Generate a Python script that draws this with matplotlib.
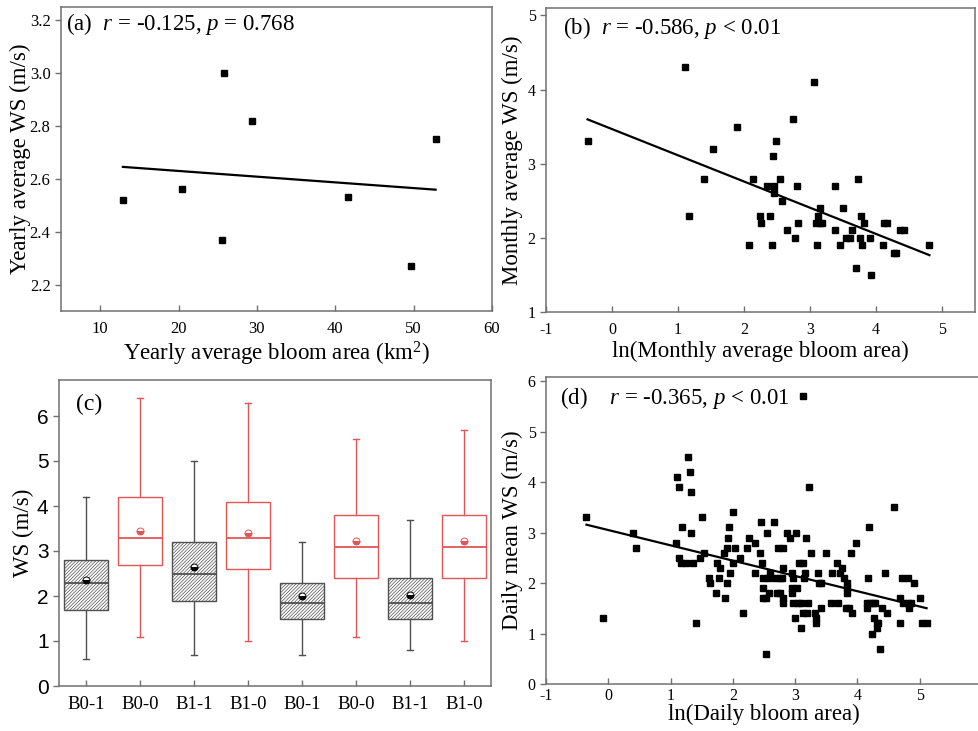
import numpy as np
import matplotlib
matplotlib.use("Agg")
import matplotlib.pyplot as plt

# -----------------------------
# Data
# -----------------------------
# (a) yearly
area_a = [12.9, 20.4, 25.6, 25.8, 29.4, 41.6, 49.7, 52.8]
ws_a = [2.52, 2.56, 2.37, 3.00, 2.82, 2.53, 2.27, 2.75]
fit_a = (2.673, -0.00216)  # intercept, slope

# (b) monthly
lnarea_b = [-0.37, 1.10, 1.17, 1.40, 1.53, 1.90, 2.08, 2.13, 2.24, 2.25,
            2.35, 2.40, 2.42, 2.44, 2.46, 2.46, 2.48, 2.55, 2.58, 2.65,
            2.74, 2.78, 2.81, 2.82, 3.06, 3.09, 3.10, 3.12, 3.15, 3.15,
            3.18, 3.38, 3.38, 3.45, 3.50, 3.54, 3.60, 3.64, 3.69, 3.73,
            3.75, 3.78, 3.79, 3.82, 3.91, 3.93, 4.11, 4.12, 4.17, 4.27,
            4.30, 4.37, 4.43, 4.81]
ws_b = [3.3, 4.3, 2.3, 2.8, 3.2, 3.5, 1.9, 2.8, 2.3, 2.2,
        2.7, 2.3, 1.9, 3.1, 2.7, 2.6, 3.3, 2.8, 2.5, 2.1,
        3.6, 2.0, 2.7, 2.2, 4.1, 2.2, 1.9, 2.3, 2.4, 2.2,
        2.2, 2.7, 2.1, 1.9, 2.4, 2.0, 2.0, 2.1, 1.6, 2.8,
        2.0, 2.3, 1.9, 2.2, 2.0, 1.5, 1.9, 2.2, 2.2, 1.8,
        1.8, 2.1, 2.1, 1.9]
fit_b = (3.467, -0.3535)

# (c) box statistics
groups = ["B0-1", "B0-0", "B1-1", "B1-0", "B0-1", "B0-0", "B1-1", "B1-0"]
q1 = [1.7, 2.7, 1.9, 2.6, 1.5, 2.4, 1.5, 2.4]
med = [2.3, 3.3, 2.5, 3.3, 1.85, 3.1, 1.85, 3.1]
q3 = [2.8, 4.2, 3.2, 4.1, 2.3, 3.8, 2.4, 3.8]
whislo = [0.6, 1.1, 0.7, 1.0, 0.7, 1.1, 0.8, 1.0]
whishi = [4.2, 6.4, 5.0, 6.3, 3.2, 5.5, 3.7, 5.7]
means = [2.35, 3.45, 2.65, 3.40, 2.00, 3.22, 2.03, 3.22]

# (d) daily
lnarea_d = [-0.35, -0.08, 0.40, 0.44, 1.08, 1.11, 1.14, 1.14, 1.16, 1.19,
            1.25, 1.28, 1.31, 1.33, 1.32, 1.36, 1.41, 1.48, 1.50, 1.54,
            1.62, 1.64, 1.73, 1.75, 1.77, 1.80, 1.85, 1.87, 1.91, 1.91,
            1.92, 1.94, 1.96, 2.00, 2.00, 2.04, 2.12, 2.17, 2.22, 2.26,
            2.35, 2.35, 2.44, 2.45, 2.47, 2.48, 2.49, 2.49, 2.53, 2.55,
            2.54, 2.56, 2.58, 2.59, 2.66, 2.68, 2.71, 2.72, 2.75, 2.76,
            2.79, 2.80, 2.81, 2.81, 2.81, 2.87, 2.92, 2.95, 2.96, 2.95,
            2.95, 2.97, 2.99, 3.01, 3.03, 3.04, 3.06, 3.09, 3.10, 3.12,
            3.12, 3.14, 3.16, 3.18, 3.19, 3.21, 3.23, 3.26, 3.32, 3.33,
            3.34, 3.36, 3.38, 3.41, 3.42, 3.50, 3.57, 3.59, 3.68, 3.69,
            3.72, 3.76, 3.79, 3.82, 3.83, 3.83, 3.83, 3.87, 3.90, 3.92,
            3.98, 4.17, 4.19, 4.15, 4.15, 4.20, 4.25, 4.24, 4.26, 4.29,
            4.31, 4.32, 4.33, 4.36, 4.40, 4.45, 4.47, 4.58, 4.68, 4.69,
            4.71, 4.73, 4.81, 4.81, 4.83, 4.86, 4.91, 5.00, 5.04, 5.11,
            3.12]
ws_d = [3.3, 1.3, 3.0, 2.7, 2.8, 4.1, 3.9, 2.5, 2.4, 3.1,
        2.4, 4.5, 4.2, 3.8, 3.0, 2.4, 1.2, 2.5, 3.3, 2.6,
        2.1, 2.0, 1.8, 2.4, 2.1, 2.3, 2.6, 1.7, 2.0, 2.7,
        2.9, 3.1, 2.2, 2.4, 3.4, 2.7, 2.5, 1.4, 2.7, 2.9,
        2.8, 2.2, 2.6, 3.2, 2.4, 1.9, 2.1, 1.7, 1.7, 3.0,
        0.6, 2.1, 1.8, 2.2, 3.2, 2.1, 1.8, 2.7, 2.1, 1.8,
        2.1, 1.7, 2.7, 2.3, 1.6, 3.0, 2.9, 2.2, 2.1, 1.9,
        1.8, 1.6, 1.3, 3.0, 1.9, 1.6, 2.4, 1.6, 1.1, 2.4,
        1.4, 2.1, 2.2, 2.9, 1.4, 1.6, 3.9, 2.6, 1.4, 1.2,
        1.3, 2.2, 2.0, 2.0, 1.5, 2.6, 1.6, 2.2, 2.4, 1.6,
        2.2, 2.3, 2.1, 1.5, 2.0, 1.8, 1.9, 1.5, 2.6, 1.4,
        2.8, 2.1, 3.1, 1.6, 1.5, 1.6, 1.6, 1.0, 1.3, 1.6,
        1.2, 1.1, 1.2, 0.7, 1.5, 2.2, 1.4, 3.5, 1.2, 1.7,
        2.1, 1.6, 2.1, 1.6, 1.5, 1.6, 2.0, 1.7, 1.2, 1.2,
        5.7]
fit_d = (3.049, -0.3029)

# -----------------------------
# Style
# -----------------------------
plt.rcParams["font.family"] = ["Liberation Serif", "DejaVu Serif"]
plt.rcParams["mathtext.fontset"] = "custom"
plt.rcParams["mathtext.rm"] = "Liberation Serif"
plt.rcParams["mathtext.it"] = "Liberation Serif:italic"
plt.rcParams["axes.unicode_minus"] = False
plt.rcParams["hatch.linewidth"] = 0.5

FRAME = "#707070"
RED = "#e05555"
DARK = "#505050"
LABEL = 16.5
NOTE = 16.5
W, H = 979, 731


def ax_at(fig, l, t, r, b):
    return fig.add_axes([l / W, 1 - b / H, (r - l) / W, (b - t) / H])


def style(ax, tick_size=12):
    for s in ax.spines.values():
        s.set_color(FRAME)
        s.set_linewidth(1.1)
    ax.tick_params(axis="x", direction="in", length=4, width=1, color=FRAME,
                   labelsize=tick_size, top=False, pad=7)
    ax.tick_params(axis="y", direction="out", length=4, width=1, color=FRAME,
                   labelsize=tick_size, right=False)


def scatter_fit(ax, x, y, fit):
    x = np.asarray(x)
    ax.plot(x, y, "s", color="black", ms=4.6, ls="none")
    xs = np.array([x.min(), x.max()])
    ax.plot(xs, fit[0] + fit[1] * xs, color="black", lw=1.6)


fig = plt.figure(figsize=(W / 100, H / 100), dpi=100)

# (a)
ax = ax_at(fig, 61, 7, 492, 311)
style(ax)
scatter_fit(ax, area_a, ws_a, fit_a)
ax.set_xlim(5, 60)
ax.set_ylim(2.1, 3.25)
ax.set_xticks([10, 20, 30, 40, 50, 60])
ax.set_yticks([2.2, 2.4, 2.6, 2.8, 3.0, 3.2])
ax.set_yticklabels(["2.2", "2.4", "2.6", "2.8", "3.0", "3.2"])
ax.set_xlabel("Yearly average bloom area (km$^2$)", fontsize=LABEL, labelpad=2)
ax.set_ylabel("Yearly average WS (m/s)", fontsize=LABEL, labelpad=-1)
ax.text(0.012, 0.945, "(a)  $r$ = -0.125, $p$ = 0.768", transform=ax.transAxes,
        fontsize=NOTE, va="center", ha="left")

# (b)
ax = ax_at(fig, 546, 8, 975, 312)
style(ax, 11.5)
scatter_fit(ax, lnarea_b, ws_b, fit_b)
ax.set_xlim(-1, 5.5)
ax.set_ylim(1, 5.1)
ax.set_xticks([-1, 0, 1, 2, 3, 4, 5])
ax.set_yticks([1, 2, 3, 4, 5])
ax.set_xlabel("ln(Monthly average bloom area)", fontsize=LABEL, labelpad=2)
ax.set_ylabel("Monthly average WS (m/s)", fontsize=LABEL, labelpad=3)
ax.text(0.04, 0.935, "(b)  $r$ = -0.586, $p$ < 0.01", transform=ax.transAxes,
        fontsize=NOTE, va="center", ha="left")

# (c)
ax = ax_at(fig, 59, 380, 491, 686)
style(ax)
stats = [dict(label=g, q1=a, med=m, q3=b, whislo=lo, whishi=hi, mean=mu, fliers=[])
         for g, a, m, b, lo, hi, mu in zip(groups, q1, med, q3, whislo, whishi, means)]
pos = np.arange(1, len(groups) + 1)
for idx, col, hatch in [(list(range(0, 8, 2)), DARK, "//////////"),
                        (list(range(1, 8, 2)), RED, None)]:
    mean_face = "black" if col == DARK else RED
    ax.bxp([stats[i] for i in idx], positions=pos[idx], widths=0.8,
           showmeans=True, patch_artist=True, capwidths=0.1,
           boxprops=dict(facecolor="white", edgecolor=col, linewidth=1.0, hatch=hatch),
           medianprops=dict(color=col, linewidth=1.3),
           whiskerprops=dict(color=col, linewidth=1.0),
           capprops=dict(color=col, linewidth=1.0),
           meanprops=dict(marker="o", markersize=5, fillstyle="bottom",
                          markerfacecolor=mean_face, markerfacecoloralt="white",
                          markeredgecolor=mean_face, markeredgewidth=0.7))
ax.set_xlim(0.5, 8.5)
ax.set_ylim(0, 6.8)
ax.set_xticks(pos)
ax.set_xticklabels(groups, fontsize=13.5)
ax.set_yticks(range(0, 7))
ax.set_yticklabels([str(v) for v in range(0, 7)], family="Liberation Sans", fontsize=15)
ax.set_ylabel("WS (m/s)", fontsize=LABEL, labelpad=2)
ax.text(0.04, 0.92, "(c)", transform=ax.transAxes, fontsize=17, va="center", ha="left")

# (d)
ax = ax_at(fig, 546, 377, 982, 684)
style(ax, 11.5)
scatter_fit(ax, lnarea_d[:-1], ws_d[:-1], fit_d)
ax.plot(lnarea_d[-1:], ws_d[-1:], "s", color="black", ms=4.6)
ax.set_xlim(-1, 6)
ax.set_ylim(0, 6.08)
ax.set_xticks([-1, 0, 1, 2, 3, 4, 5, 6])
ax.set_yticks([0, 1, 2, 3, 4, 5, 6])
ax.tick_params(axis="x", pad=3)
ax.set_xlabel("ln(Daily bloom area)", fontsize=LABEL, labelpad=0)
ax.set_ylabel("Daily mean WS (m/s)", fontsize=LABEL, labelpad=3)
ax.text(0.032, 0.93, "(d)    $r$ = -0.365, $p$ < 0.01", transform=ax.transAxes,
        fontsize=NOTE, va="center", ha="left")

fig.savefig("out.png", dpi=100)
